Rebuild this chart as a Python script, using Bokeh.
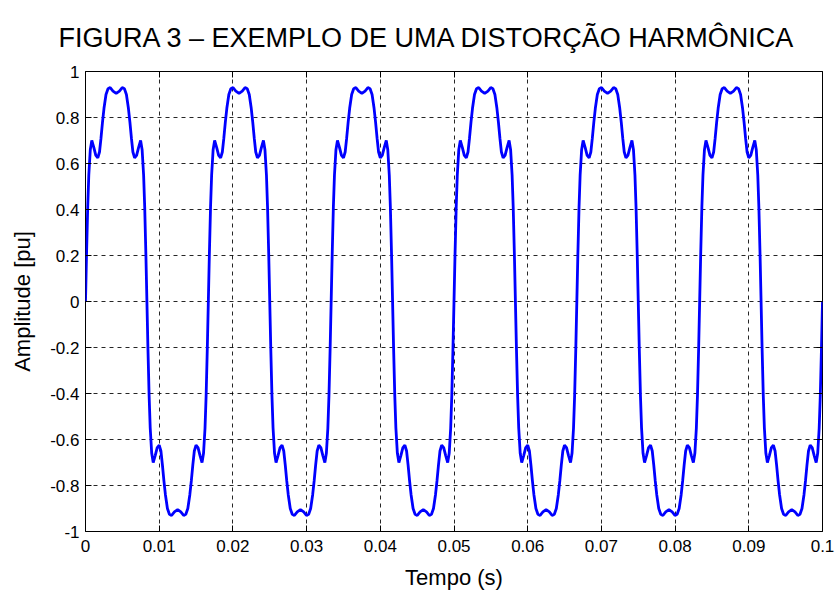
from bokeh.plotting import figure
from bokeh.models import Range1d, FixedTicker, LinearAxis, ColumnDataSource
from bokeh.embed import file_html
from bokeh.resources import INLINE

# --- data ---
# start time (s) of each fundamental cycle (60 Hz)
CYCLE_STARTS = [0.0, 0.016667, 0.033333, 0.05, 0.066667, 0.083333]
# one cycle of the distorted wave: time inside the cycle (ms) and amplitude (pu)
CYCLE_T_MS = [0.000, 0.136, 0.299, 0.448, 0.651, 0.855, 1.126, 1.398, 1.669, 1.900,
              2.103, 2.307, 2.510, 2.782, 3.053, 3.351, 3.731, 4.167, 4.602, 4.982,
              5.280, 5.551, 5.823, 6.026, 6.230, 6.433, 6.664, 6.935, 7.207, 7.478,
              7.682, 7.885, 8.034, 8.197,
              8.333, 8.469, 8.632, 8.781, 8.984, 9.188, 9.459, 9.731, 10.002, 10.233,
              10.436, 10.640, 10.843, 11.115, 11.386, 11.684, 12.064, 12.500, 12.935, 13.315,
              13.613, 13.884, 14.156, 14.359, 14.563, 14.766, 14.997, 15.268, 15.540, 15.811,
              16.015, 16.218, 16.367, 16.530]
CYCLE_V = [0.00, 0.20, 0.41, 0.55, 0.66, 0.70, 0.67, 0.635, 0.625, 0.65,
           0.71, 0.78, 0.84, 0.90, 0.925, 0.93, 0.915, 0.905, 0.915, 0.93,
           0.925, 0.90, 0.84, 0.78, 0.71, 0.65, 0.625, 0.635, 0.67, 0.70,
           0.66, 0.55, 0.41, 0.20,
           0.00, -0.20, -0.41, -0.55, -0.66, -0.70, -0.67, -0.635, -0.625, -0.65,
           -0.71, -0.78, -0.84, -0.90, -0.925, -0.93, -0.915, -0.905, -0.915, -0.93,
           -0.925, -0.90, -0.84, -0.78, -0.71, -0.65, -0.625, -0.635, -0.67, -0.70,
           -0.66, -0.55, -0.41, -0.20]
END_T = 0.1
END_V = 0.0

X_TICKS = [0, 0.01, 0.02, 0.03, 0.04, 0.05, 0.06, 0.07, 0.08, 0.09, 0.1]
X_LABELS = ["0", "0.01", "0.02", "0.03", "0.04", "0.05", "0.06", "0.07", "0.08", "0.09", "0.1"]
Y_TICKS = [-1, -0.8, -0.6, -0.4, -0.2, 0, 0.2, 0.4, 0.6, 0.8, 1]
Y_LABELS = ["-1", "-0.8", "-0.6", "-0.4", "-0.2", "0", "0.2", "0.4", "0.6", "0.8", "1"]

TITLE = "FIGURA 3 \u2013 EXEMPLO DE UMA DISTORÇÃO HARMÔNICA"
X_LABEL = "Tempo (s)"
Y_LABEL = "Amplitude [pu]"

# build the series table from the read cycle
ts, vs = [], []
for start in CYCLE_STARTS:
    for tm, v in zip(CYCLE_T_MS, CYCLE_V):
        ts.append(start + tm / 1000.0)
        vs.append(v)
ts.append(END_T)
vs.append(END_V)
src = ColumnDataSource(dict(t=ts, v=vs))

FONT = "Liberation Sans"

p = figure(width=835, height=592,
           min_border_left=85, min_border_right=13, min_border_top=71, min_border_bottom=60,
           x_range=Range1d(0, 0.1), y_range=Range1d(-1, 1),
           output_backend="svg", toolbar_location=None, title=TITLE)

bottom_ax = p.below[0]
left_ax = p.left[0]

p.title.text_font = FONT
p.title.text_font_size = "27px"
p.title.text_font_style = "normal"
p.title.align = "left"
p.title.offset = -27
p.title.text_color = "black"
p.title.standoff = 38

p.outline_line_color = "black"
p.outline_line_width = 1
p.background_fill_color = "white"
p.border_fill_color = "white"

p.line("t", "v", source=src, line_color="#0000FF", line_width=2.8)

top_ax = LinearAxis()
right_ax = LinearAxis()
p.add_layout(top_ax, "above")
p.add_layout(right_ax, "right")

bottom_ax.ticker = FixedTicker(ticks=X_TICKS)
bottom_ax.major_label_overrides = {t: s for t, s in zip(X_TICKS, X_LABELS)}
left_ax.ticker = FixedTicker(ticks=Y_TICKS)
left_ax.major_label_overrides = {t: s for t, s in zip(Y_TICKS, Y_LABELS)}
top_ax.ticker = FixedTicker(ticks=X_TICKS)
top_ax.major_label_overrides = {t: "" for t in X_TICKS}
right_ax.ticker = FixedTicker(ticks=Y_TICKS)
right_ax.major_label_overrides = {t: "" for t in Y_TICKS}

for ax in [bottom_ax, left_ax, top_ax, right_ax]:
    ax.axis_line_color = None
    ax.major_tick_in = 6
    ax.major_tick_out = 0
    ax.major_tick_line_color = "black"
    ax.minor_tick_line_color = None
    ax.major_label_text_font = FONT
    ax.major_label_text_font_size = "17px"
    ax.major_label_text_color = "black"

for ax in [top_ax, right_ax]:
    ax.major_label_standoff = 0

bottom_ax.axis_label = X_LABEL
left_ax.axis_label = Y_LABEL
for ax in [bottom_ax, left_ax]:
    ax.axis_label_text_font = FONT
    ax.axis_label_text_font_size = "22px"
    ax.axis_label_text_font_style = "normal"
    ax.axis_label_text_color = "black"
bottom_ax.major_label_standoff = 8
left_ax.major_label_standoff = 6
bottom_ax.axis_label_standoff = 10
left_ax.axis_label_standoff = 12

p.xgrid.ticker = FixedTicker(ticks=X_TICKS)
p.ygrid.ticker = FixedTicker(ticks=Y_TICKS)
for g in [p.xgrid, p.ygrid]:
    g.grid_line_color = "black"
    g.grid_line_dash = "4 4"
    g.grid_line_width = 1
    g.grid_line_alpha = 0.85

open("out.html", "w").write(file_html(p, INLINE))
